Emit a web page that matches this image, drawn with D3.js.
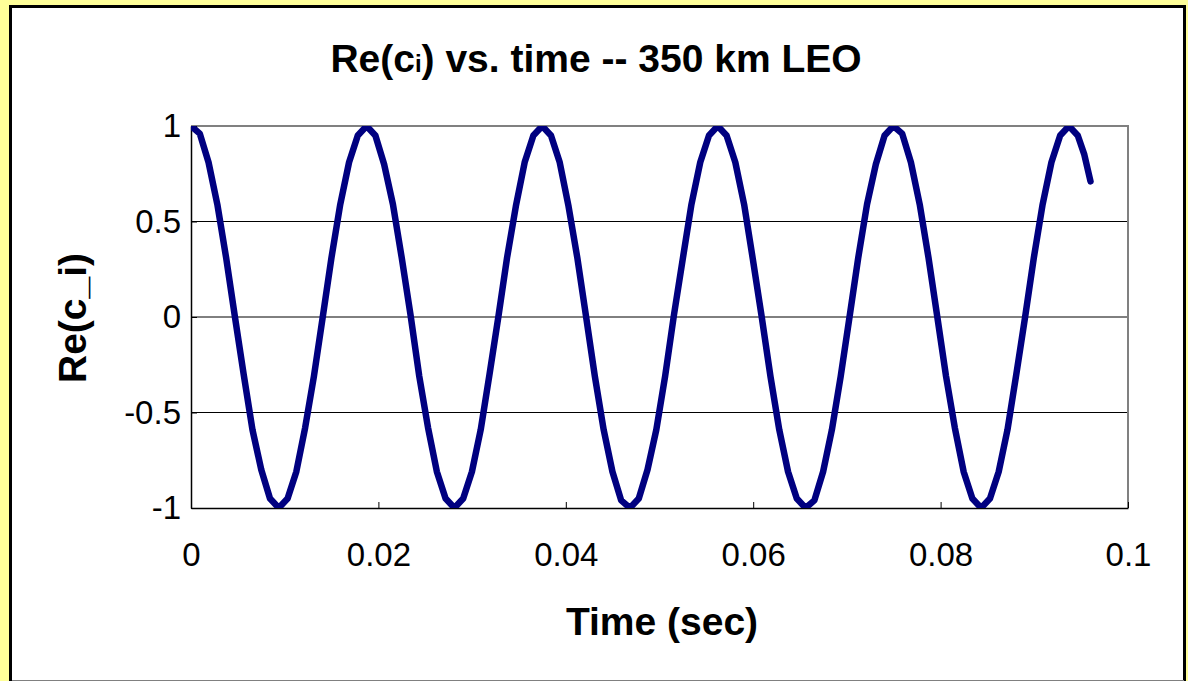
<!DOCTYPE html>
<html lang="en">

<head>
    <meta charset="UTF-8">
    <title>Re(ci) vs. time</title>
    <script src="https://d3js.org/d3.v7.min.js"></script>
    <style>
        body { margin: 0; background: #ffff99; }
        svg { display: block; }
        text { font-family: "Liberation Sans", Arial, sans-serif; }
    </style>
</head>

<body>
    <div id="content"></div>
</body>
<script>
// sample times (sec)
const times = [
    0, 0.00094, 0.00187, 0.00281, 0.00375, 0.00469, 0.00562, 0.00656, 0.0075, 0.00843,
    0.00937, 0.01031, 0.01124, 0.01218, 0.01312, 0.01406, 0.01499, 0.01593, 0.01687, 0.0178,
    0.01874, 0.01968, 0.02061, 0.02155, 0.02249, 0.02343, 0.02436, 0.0253, 0.02624, 0.02717,
    0.02811, 0.02905, 0.02998, 0.03092, 0.03186, 0.0328, 0.03373, 0.03467, 0.03561, 0.03654,
    0.03748, 0.03842, 0.03935, 0.04029, 0.04123, 0.04217, 0.0431, 0.04404, 0.04498, 0.04591,
    0.04685, 0.04779, 0.04872, 0.04966, 0.0506, 0.05154, 0.05247, 0.05341, 0.05435, 0.05528,
    0.05622, 0.05716, 0.05809, 0.05903, 0.05997, 0.06091, 0.06184, 0.06278, 0.06372, 0.06465,
    0.06559, 0.06653, 0.06746, 0.0684, 0.06934, 0.07028, 0.07121, 0.07215, 0.07309, 0.07402,
    0.07496, 0.0759, 0.07683, 0.07777, 0.07871, 0.07965, 0.08058, 0.08152, 0.08246, 0.08339,
    0.08433, 0.08527, 0.0862, 0.08714, 0.08808, 0.08902, 0.08995, 0.09089, 0.09183, 0.09276,
    0.0937, 0.09464, 0.09534, 0.096
];

// Re(c_i)
const reC = [
    1.00, 0.96, 0.81, 0.59, 0.31, 0.00, -0.30, -0.59, -0.80, -0.95,
    -1.00, -0.95, -0.81, -0.58, -0.31, 0.00, 0.31, 0.59, 0.81, 0.95,
    1.00, 0.95, 0.80, 0.59, 0.31, 0.01, -0.31, -0.58, -0.81, -0.95,
    -1.00, -0.95, -0.81, -0.59, -0.30, 0.00, 0.31, 0.58, 0.81, 0.95,
    1.00, 0.95, 0.81, 0.58, 0.31, 0.00, -0.31, -0.59, -0.81, -0.96,
    -1.00, -0.95, -0.80, -0.59, -0.31, 0.01, 0.30, 0.59, 0.81, 0.95,
    1.00, 0.95, 0.81, 0.59, 0.30, 0.00, -0.31, -0.59, -0.81, -0.95,
    -1.00, -0.96, -0.81, -0.59, -0.31, 0.00, 0.31, 0.59, 0.80, 0.95,
    1.00, 0.96, 0.81, 0.59, 0.31, 0.00, -0.31, -0.58, -0.81, -0.95,
    -1.00, -0.95, -0.81, -0.59, -0.30, 0.00, 0.31, 0.59, 0.81, 0.95,
    1.00, 0.95, 0.85, 0.71
];

const xTicks = [0, 0.02, 0.04, 0.06, 0.08, 0.1];
const xTickLabels = ["0", "0.02", "0.04", "0.06", "0.08", "0.1"];
const yTicks = [-1, -0.5, 0, 0.5, 1];
const yTickLabels = ["-1", "-0.5", "0", "0.5", "1"];
const gridValues = [-0.5, 0, 0.5];

let width = 1188, height = 681;
let plot = { left: 191, right: 1128, top: 126, bottom: 508 };

const svg = d3.select("#content")
    .append("svg")
    .attr("width", width)
    .attr("height", height)

// chart box
svg.append("rect")
    .attr("x", 10.5).attr("y", 6.5)
    .attr("width", 1174).attr("height", 700)
    .attr("fill", "white")
    .attr("stroke", "black")
    .attr("stroke-width", 3)

svg.append("line")
    .attr("x1", 12).attr("x2", 1184)
    .attr("y1", 680.5).attr("y2", 680.5)
    .attr("stroke", "#808080")

const x = d3.scaleLinear().domain([0, 0.1]).range([plot.left, plot.right]);
const y = d3.scaleLinear().domain([-1, 1]).range([plot.bottom, plot.top]);

// grid
svg.append("g")
    .selectAll("line")
    .data(gridValues)
    .enter().append("line")
    .attr("x1", plot.left).attr("x2", plot.right)
    .attr("y1", d => y(d)).attr("y2", d => y(d))
    .attr("stroke", "black")
    .attr("stroke-width", 1)

// plot border top / right
svg.append("path")
    .attr("d", `M${plot.left},${plot.top}H${plot.right}V${plot.bottom}`)
    .attr("fill", "none")
    .attr("stroke", "#808080")
    .attr("stroke-width", 2)

const xAxis = svg.append("g")
    .attr("transform", `translate(0,${plot.bottom})`)
    .call(d3.axisBottom(x).tickValues(xTicks)
        .tickFormat((d, i) => xTickLabels[i])
        .tickSizeInner(-6).tickSizeOuter(0).tickPadding(35))

const yAxis = svg.append("g")
    .attr("transform", `translate(${plot.left},0)`)
    .call(d3.axisLeft(y).tickValues(yTicks)
        .tickFormat((d, i) => yTickLabels[i])
        .tickSizeInner(-6).tickSizeOuter(0).tickPadding(10))

svg.selectAll(".domain").attr("stroke", "black").attr("stroke-width", 1.5)
svg.selectAll(".tick line").attr("stroke", "black")
svg.selectAll(".tick text")
    .attr("font-family", "'Liberation Sans', Arial, sans-serif")
    .attr("font-size", 33)
    .attr("fill", "black")

// data line
svg.append("clipPath")
    .attr("id", "clip")
    .append("rect")
    .attr("x", plot.left).attr("y", plot.top)
    .attr("width", plot.right - plot.left).attr("height", plot.bottom - plot.top)

const line = d3.line()
    .x((d, i) => x(times[i]))
    .y(d => y(d));

svg.append("path")
    .datum(reC)
    .attr("clip-path", "url(#clip)")
    .attr("d", line)
    .attr("fill", "none")
    .attr("stroke", "#000080")
    .attr("stroke-width", 6.5)
    .attr("stroke-linejoin", "round")
    .attr("stroke-linecap", "round")

// titles
const title = svg.append("text")
    .attr("x", 596).attr("y", 72)
    .attr("text-anchor", "middle")
    .attr("font-size", 39)
    .attr("font-weight", "bold")
title.append("tspan").text("Re(c")
title.append("tspan").attr("font-size", 24).text("i")
title.append("tspan").text(") vs. time -- 350 km LEO")

svg.append("text")
    .attr("x", 662).attr("y", 635)
    .attr("text-anchor", "middle")
    .attr("font-size", 39)
    .attr("font-weight", "bold")
    .text("Time (sec)")

svg.append("text")
    .attr("transform", "translate(86,318) rotate(-90)")
    .attr("text-anchor", "middle")
    .attr("font-size", 39)
    .attr("font-weight", "bold")
    .text("Re(c_i)")
</script>
